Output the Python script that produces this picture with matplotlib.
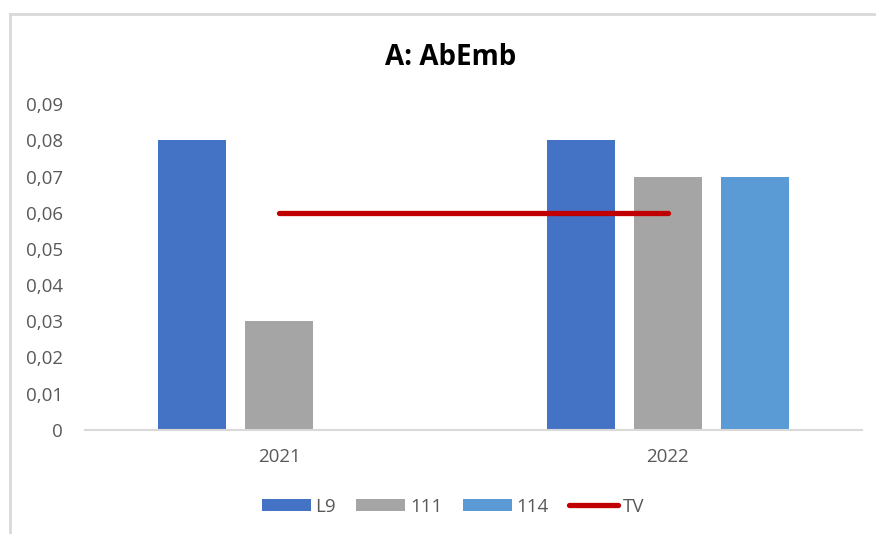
import numpy as np
import matplotlib
matplotlib.use("Agg")
import matplotlib.pyplot as plt
from matplotlib.lines import Line2D
from matplotlib.ticker import FuncFormatter

plt.rcParams['font.family'] = ['Open Sans', 'DejaVu Sans']

years = ["2021", "2022"]
series = ["L9", "111", "114"]
values = {
    "L9": [0.08, 0.08],
    "111": [0.03, 0.07],
    "114": [np.nan, 0.07],
}
tv = [0.06, 0.06]
colors = {"L9": "#4472C4", "111": "#A5A5A5", "114": "#5B9BD5"}

fig = plt.figure(figsize=(8.76, 5.34), dpi=100)
ax = fig.add_axes([0.097, 0.195, 0.887, 0.61])

x = np.arange(len(years))
width = 0.175
offsets = [-0.224, 0.0, 0.224]
handles = []
for s, off in zip(series, offsets):
    b = ax.bar(x + off, values[s], width, color=colors[s], label=s, zorder=2)
    handles.append(b)
line, = ax.plot(x, tv, color="#C00000", lw=3.8, solid_capstyle="round", label="TV", zorder=3)
handles.append(line)

ax.set_xlim(-0.5, 1.5)
ax.set_ylim(0, 0.09)
ax.set_yticks(np.arange(0, 0.091, 0.01))
ax.yaxis.set_major_formatter(FuncFormatter(lambda v, p: "0" if abs(v) < 1e-9 else f"{v:.2f}".replace(".", ",")))
ax.set_xticks(x)
ax.set_xticklabels(years)
ax.tick_params(axis="both", length=0, colors="#595959", labelsize=13.5)
ax.tick_params(axis="x", pad=13)
ax.tick_params(axis="y", pad=16)
for sp in ["top", "right", "left"]:
    ax.spines[sp].set_visible(False)
ax.spines["bottom"].set_color("#D9D9D9")
ax.spines["bottom"].set_linewidth(1.5)

fig.text(0.514, 0.893, "A: AbEmb", ha="center", va="center", fontsize=20, fontweight="bold", color="black")

fig.legend(handles, [h.get_label() for h in handles], loc="center", bbox_to_anchor=(0.517, 0.051), ncol=4,
           frameon=False, fontsize=13.5, handlelength=2.6, handleheight=0.6, columnspacing=1.1,
           handletextpad=0.25, labelcolor="#595959")

# chart frame (partially visible)
fig.add_artist(Line2D([0.011, 0.011], [0, 0.974], transform=fig.transFigure, color="#D9D9D9", lw=2))
fig.add_artist(Line2D([0.011, 1.0], [0.974, 0.974], transform=fig.transFigure, color="#D9D9D9", lw=2))

fig.savefig("out.png", dpi=100)
